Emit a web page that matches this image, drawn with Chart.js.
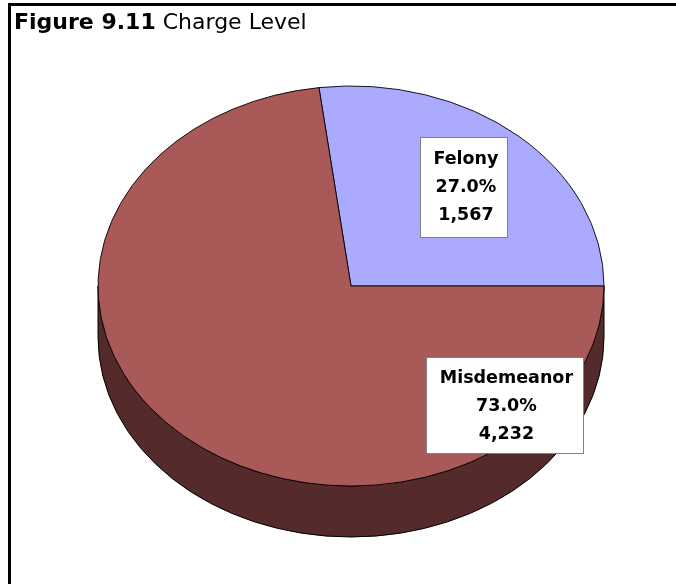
<!DOCTYPE html>
<html>
<head>
<meta charset="utf-8">
<script src="https://cdn.jsdelivr.net/npm/chart.js@4.4.1/dist/chart.umd.min.js"></script>
<style>
  html, body { margin: 0; padding: 0; background: #fff; }
  #wrap { position: relative; width: 676px; height: 584px; overflow: hidden; }
  #frame { position: absolute; left: 8px; top: 3px; right: -10px; bottom: -10px;
           border-left: 3px solid #000; border-top: 3px solid #000; }
  #title { position: absolute; left: 14px; top: 8px; font-family: "DejaVu Sans", sans-serif;
           font-size: 22px; line-height: 28px; color: #000; white-space: nowrap; }
  #title b { font-weight: bold; }
  canvas { position: absolute; left: 0; top: 0; }
</style>
</head>
<body>
<div id="wrap">
  <canvas id="c" width="676" height="584"></canvas>
  <div id="frame"></div>
  <div id="title"><b>Figure 9.11</b> Charge Level</div>
</div>
<script>
// ---- data ----
const categories = ['Felony', 'Misdemeanor'];
const counts = [1567, 4232];

// ---- style ----
const topColors = ['#AAAAFF', '#A95957'];
const sideColors = ['#5A5AA0', '#552A2A'];
const TILT = 200 / 253;   // vertical squash of the pie
const DEPTH = 51;         // thickness of the pie in px

const total = counts.reduce((a, b) => a + b, 0);
const pctLabels = counts.map(v => (v / total * 100).toFixed(1) + '%');
const countLabels = counts.map(v => v.toLocaleString('en-US'));

const pie3d = {
  id: 'pie3d',
  beforeDatasetsDraw(chart) {
    const ctx = chart.ctx;
    const meta = chart.getDatasetMeta(0);
    const first = meta.data[0];
    const {x, y, outerRadius: R} = first.getProps(['x', 'y', 'outerRadius'], true);
    // side walls (front half only)
    meta.data.forEach((arc, i) => {
      const p = arc.getProps(['startAngle', 'endAngle'], true);
      [-2 * Math.PI, 0, 2 * Math.PI].forEach(shift => {
        const lo = Math.max(p.startAngle + shift, 0);
        const hi = Math.min(p.endAngle + shift, Math.PI);
        if (hi - lo < 1e-3) return;
        ctx.save();
        ctx.beginPath();
        ctx.ellipse(x, y, R, R * TILT, 0, lo, hi, false);
        ctx.ellipse(x, y + DEPTH, R, R * TILT, 0, hi, lo, true);
        ctx.closePath();
        ctx.fillStyle = sideColors[i];
        ctx.fill();
        ctx.lineWidth = 1;
        ctx.strokeStyle = '#000';
        ctx.stroke();
        ctx.restore();
      });
    });
    ctx.save();
    ctx.translate(x, y);
    ctx.scale(1, TILT);
    ctx.translate(-x, -y);
  },
  afterDatasetsDraw(chart, args, opts) {
    const ctx = chart.ctx;
    ctx.restore();
    const meta = chart.getDatasetMeta(0);
    const {x, y, outerRadius: R} = meta.data[0].getProps(['x', 'y', 'outerRadius'], true);
    ctx.save();
    ctx.font = 'bold 17.5px "DejaVu Sans", sans-serif';
    ctx.textAlign = 'center';
    ctx.textBaseline = 'middle';
    opts.labelPos.forEach((lp, i) => {
      const a = lp.a * Math.PI / 180;
      const cx = x + R * lp.r * Math.cos(a);
      const cy = y + R * TILT * lp.r * Math.sin(a);
      const lines = [categories[i], pctLabels[i], countLabels[i]];
      const w = Math.max(...lines.map(t => ctx.measureText(t).width)) + 2 * lp.padX;
      const h = lines.length * opts.lineH + lp.padY * 2;
      const bx = Math.round(cx - w / 2) + 0.5, by = Math.round(cy - h / 2) + 0.5;
      ctx.fillStyle = '#fff';
      ctx.fillRect(bx, by, Math.round(w), Math.round(h));
      ctx.strokeStyle = '#808080';
      ctx.lineWidth = 1;
      ctx.strokeRect(bx, by, Math.round(w), Math.round(h));
      ctx.fillStyle = '#000';
      lines.forEach((t, j) => {
        ctx.fillText(t, cx + 2, cy + (j - 1) * opts.lineH + 1);
      });
    });
    ctx.restore();
  }
};

new Chart(document.getElementById('c'), {
  type: 'pie',
  data: {
    labels: categories,
    datasets: [{
      data: counts,
      backgroundColor: topColors,
      borderColor: '#000',
      borderWidth: 1,
      radius: 253,
      clip: false
    }]
  },
  options: {
    responsive: false,
    animation: false,
    events: [],
    rotation: -360 * counts[0] / total + 90,
    layout: { padding: { left: 26, right: 0, top: 0, bottom: 12 } },
    plugins: {
      legend: { display: false },
      tooltip: { enabled: false },
      title: { display: false },
      pie3d: {
        labelPos: [{ a: -48, r: 0.667, padX: 11, padY: 8 }, { a: 44.5, r: 0.85, padX: 12, padY: 6 }],
        lineH: 28
      }
    }
  },
  plugins: [pie3d]
});
</script>
</body>
</html>
